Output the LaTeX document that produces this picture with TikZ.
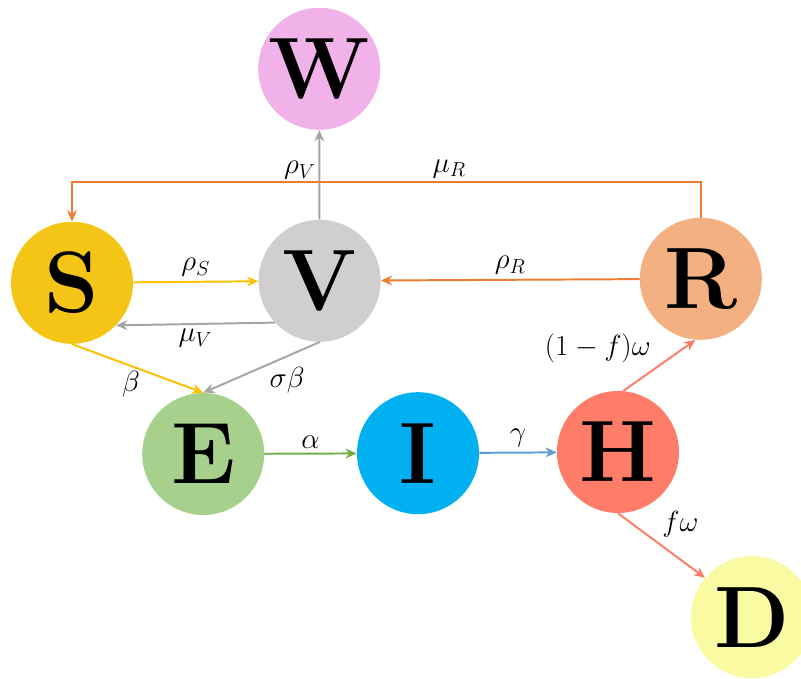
\documentclass[tikz,border=0pt]{standalone}
\usepackage{amsmath,amsfonts,amssymb}
\usepackage{tikz}
\usetikzlibrary{arrows.meta,positioning}

\definecolor{sFill}{RGB}{244,197,22}
\definecolor{vFill}{RGB}{208,206,206}
\definecolor{wFill}{RGB}{241,178,234}
\definecolor{rFill}{RGB}{243,176,128}
\definecolor{eFill}{RGB}{168,208,141}
\definecolor{iFill}{RGB}{0,176,240}
\definecolor{hFill}{RGB}{255,124,104}
\definecolor{dFill}{RGB}{250,250,162}
\definecolor{goldLine}{RGB}{255,192,0}
\definecolor{grayLine}{RGB}{165,165,165}
\definecolor{orangeLine}{RGB}{237,125,49}
\definecolor{greenLine}{RGB}{112,173,71}
\definecolor{blueLine}{RGB}{91,155,213}

\begin{document}
\begin{tikzpicture}[
  state/.style={circle, minimum size=3.05cm, inner sep=0pt, font=\fontsize{62}{62}\selectfont\bfseries},
  flow/.style={-{Stealth[length=8pt,width=7pt]}, line width=1.4pt},
  rate/.style={font=\fontsize{22}{26}\selectfont, inner sep=3pt, text=black}
]
\useasboundingbox (0,0) rectangle (20.025,-16.975);

% compartments
\node[state, fill=wFill] (W) at (7.98,-1.72) {W};
\node[state, fill=sFill] (S) at (1.8,-7.07) {S};
\node[state, fill=vFill] (V) at (7.99,-7.02) {V};
\node[state, fill=rFill] (R) at (17.52,-6.97) {R};
\node[state, fill=eFill] (E) at (5.08,-11.35) {E};
\node[state, fill=iFill] (I) at (10.45,-11.33) {I};
\node[state, fill=hFill] (H) at (15.45,-11.3) {H};
\node[state, fill=dFill] (D) at (18.8,-15.43) {D};
\coordinate (turnS) at (1.8,-4.55);

% flows
\draw[flow, goldLine] (S) -- node[rate, above] {$\rho_S$} (V);
\draw[flow, grayLine] (V.223) -- node[rate, below] {$\mu_V$} (S.316);
\draw[flow, goldLine] (S.south) -- node[rate, below, pos=0.45] {$\beta$} (E.north);
\draw[flow, grayLine] (V.south) -- node[rate, below right, pos=0.45, inner sep=1pt] {$\sigma\beta$} (E.north);
\draw[flow, grayLine] (V) -- node[rate, left, pos=0.55, inner sep=2pt] {$\rho_V$} (W);
\draw[flow, orangeLine] (R) -- node[rate, above] {$\rho_R$} (V);
\draw[flow, orangeLine] (R.north) |- node[rate, above, pos=0.7, inner sep=2pt] {$\mu_R$} (turnS) -- (S.north);
\draw[flow, greenLine] (E) -- node[rate, above] {$\alpha$} (I);
\draw[flow, blueLine] (I) -- node[rate, above] {$\gamma$} (H);
\draw[flow, hFill] (H.85) -- node[rate, above left, pos=0.45] {$(1-f)\omega$} (R.265);
\draw[flow, hFill] (H.south) -- node[rate, above right, pos=0.45] {$f\omega$} (D.140);

\end{tikzpicture}
\end{document}
